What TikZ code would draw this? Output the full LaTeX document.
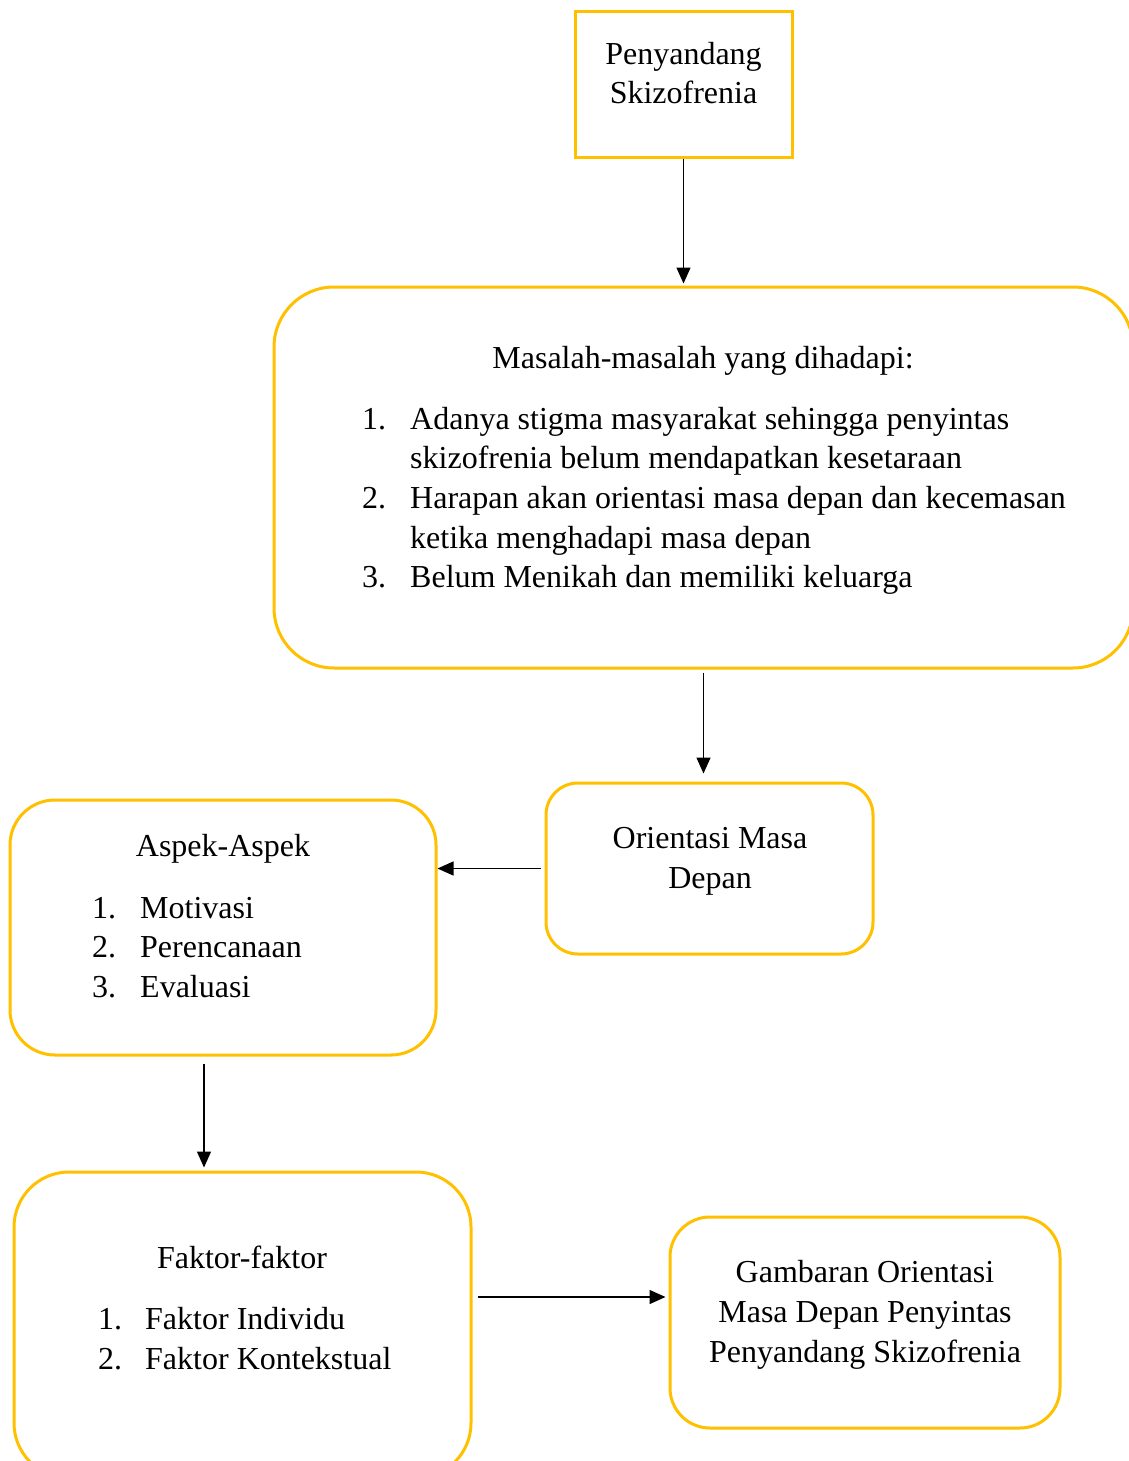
\documentclass[tikz,border=0pt]{standalone}
\usepackage{fontspec}
\setmainfont{Liberation Serif}
\usetikzlibrary{arrows.meta}
\definecolor{boxyellow}{HTML}{FFC000}
\begin{document}
\begin{tikzpicture}[x=1pt,y=-1pt,
  box/.style={draw=boxyellow,line width=3pt,inner sep=0pt,rectangle},
  txt/.style={inner sep=0pt,anchor=base,font=\fontsize{32}{40}\selectfont},
  ltxt/.style={inner sep=0pt,anchor=base west,font=\fontsize{32}{40}\selectfont},
  arr/.style={draw=black,line width=1.4pt,-{Triangle[length=16pt,width=14pt]}}]
\useasboundingbox (0,0) rectangle (1129,1461);
\clip (0,0) rectangle (1129,1461);
% boxes
\node[box,minimum width=217pt,minimum height=145pt] (b1) at (683.5,84.5) {};
\node[box,minimum width=859pt,minimum height=381pt,rounded corners=60pt] (b2) at (703.5,477.5) {};
\node[box,minimum width=327pt,minimum height=171pt,rounded corners=32pt] (b3) at (709.5,868.5) {};
\node[box,minimum width=426pt,minimum height=255pt,rounded corners=45pt] (b4) at (223,927.5) {};
\node[box,minimum width=457pt,minimum height=306pt,rounded corners=55pt] (b5) at (242.5,1325) {};
\node[box,minimum width=390pt,minimum height=211pt,rounded corners=40pt] (b6) at (865,1322.5) {};
% texts box 1
\node[txt] (t1a) at (683.5,65) {Penyandang};
\node[txt] (t1b) at (683.5,104) {Skizofrenia};
% texts box 2
\node[txt] (t2) at (703,368) {Masalah-masalah yang dihadapi:};
\node[ltxt] (n21) at (362,429) {1.};
\node[ltxt] (t21a) at (410,429) {Adanya stigma masyarakat sehingga penyintas};
\node[ltxt] (t21b) at (410,468) {skizofrenia belum mendapatkan kesetaraan};
\node[ltxt] (n22) at (362,508) {2.};
\node[ltxt] (t22a) at (410,508) {Harapan akan orientasi masa depan dan kecemasan};
\node[ltxt] (t22b) at (410,548) {ketika menghadapi masa depan};
\node[ltxt] (n23) at (362,587) {3.};
\node[ltxt] (t23) at (410,587) {Belum Menikah dan memiliki keluarga};
% texts box 3
\node[txt] (t3a) at (710,848) {Orientasi Masa};
\node[txt] (t3b) at (710,888) {Depan};
% texts box 4
\node[txt] (t4) at (223,856) {Aspek-Aspek};
\node[ltxt] (n41) at (92,918) {1.};
\node[ltxt] (t41) at (140,918) {Motivasi};
\node[ltxt] (n42) at (92,957) {2.};
\node[ltxt] (t42) at (140,957) {Perencanaan};
\node[ltxt] (n43) at (92,997) {3.};
\node[ltxt] (t43) at (140,997) {Evaluasi};
% texts box 5
\node[txt] (t5) at (242,1268) {Faktor-faktor};
\node[ltxt] (n51) at (98,1329) {1.};
\node[ltxt] (t51) at (145,1329) {Faktor Individu};
\node[ltxt] (n52) at (98,1369) {2.};
\node[ltxt] (t52) at (145,1369) {Faktor Kontekstual};
% texts box 6
\node[txt] (t6a) at (865,1282) {Gambaran Orientasi};
\node[txt] (t6b) at (865,1322) {Masa Depan Penyintas};
\node[txt] (t6c) at (865,1362) {Penyandang Skizofrenia};
% connectors
\draw[arr,shorten >=2pt] (b1.south) -- (b1.south |- b2.north);
\draw[arr,shorten <=3pt,shorten >=8pt] (b2.south) -- (b2.south |- b3.north);
\draw[arr,shorten <=4pt] (b3.west) -- (b3.west -| b4.east);
\draw[arr,shorten <=7pt,shorten >=3pt] (b4.south -| 204,0) -- (b5.north -| 204,0);
\draw[arr,shorten <=5pt,shorten >=3pt] (b5.east |- 0,1297) -- (b6.west |- 0,1297);
\end{tikzpicture}
\end{document}
